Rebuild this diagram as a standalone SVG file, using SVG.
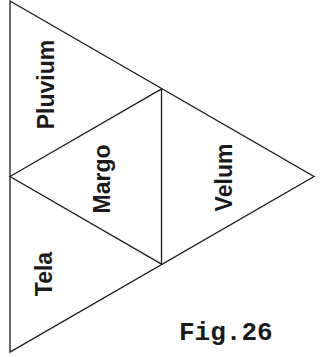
<svg xmlns="http://www.w3.org/2000/svg" width="321" height="357" viewBox="0 0 321 357">
<style>
.edge{fill:none;stroke:#1a1a1a;stroke-width:1.3;stroke-linejoin:miter}
.lbl{font-family:"Liberation Sans",Arial,sans-serif;font-weight:bold;font-size:23px;fill:#1a1a1a;text-anchor:middle}
.cap{font-family:"Liberation Mono","Courier New",monospace;font-weight:bold;font-size:26px;fill:#1a1a1a}
</style>
<rect width="321" height="357" fill="#ffffff"/>
<g id="connectors">
<polygon class="edge" points="10,1 314,176.5 10,352"/>
<polygon class="edge" points="10,176.5 161.5,89 161.5,264"/>
</g>
<g id="pluvium"><text class="lbl" transform="translate(53.5,84.5) rotate(-90)">Pluvium</text></g>
<g id="margo"><text class="lbl" transform="translate(109.5,179) rotate(-90)">Margo</text></g>
<g id="tela"><text class="lbl" transform="translate(52,274) rotate(-90)">Tela</text></g>
<g id="velum"><text class="lbl" transform="translate(232,177.5) rotate(-90)">Velum</text></g>
<g id="caption"><text class="cap" x="179" y="340">Fig.26</text></g>
</svg>
